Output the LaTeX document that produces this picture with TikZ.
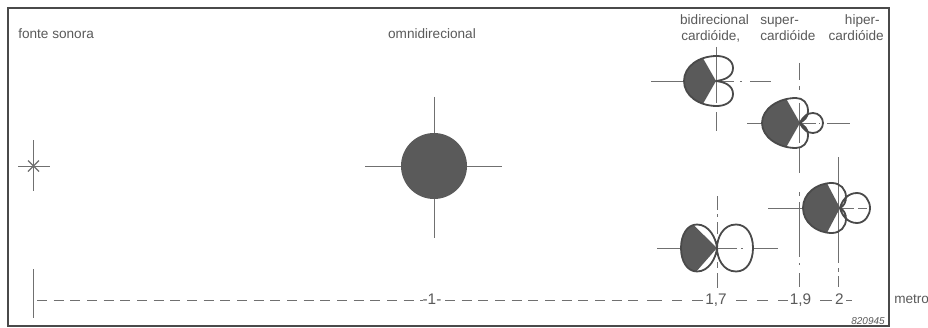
\documentclass[tikz,border=0pt]{standalone}
\usepackage{fontspec}
\setmainfont{Liberation Sans}
\definecolor{ink}{HTML}{5A5A5A}
\definecolor{edge}{HTML}{4A4A4A}
\definecolor{thin}{HTML}{707070}
\definecolor{txt}{HTML}{5A5A5A}
\newcommand{\mic}[4]{%
  \begin{scope}[shift={#1}]
    \fill[white] #2;
    #3
    \begin{scope}\clip #4; \fill[ink] #2; \end{scope}
    \draw[lobe] #2;
  \end{scope}}
\tikzset{
  lobe/.style={draw=edge,line width=1.35pt,line join=round},
  rule/.style={draw=thin,line width=.65pt},
  lab/.style={text=txt,font=\fontsize{10.2}{12}\selectfont,inner sep=0pt,anchor=base},
  tick/.style={text=txt,font=\fontsize{11.5}{12}\selectfont,inner sep=0pt,anchor=base},
  dashrule/.style={draw=thin,line width=.65pt,dash pattern=on 7.5pt off 5pt}
}
\begin{document}
\begin{tikzpicture}[x=.75pt,y=-.75pt]
\useasboundingbox (0,0) rectangle (928,328);
\fill[white] (0,0) rectangle (928,328);
\draw[draw=edge,line width=1pt] (8,8) rectangle (889,326);

% labels
\node[lab,anchor=base west] (t1) at (18,39) {fonte sonora};
\node[lab] (t2) at (432,39) {omnidirecional};
\node[lab] (t3) at (714.5,25) {bidirecional};
\node[lab,anchor=base west] (t4) at (681,41) {cardióide,};
\node[lab,anchor=base west] (t5) at (760,25) {super-};
\node[lab,anchor=base west] (t6) at (760,41) {cardióide};
\node[lab,anchor=base east] (t7) at (880,25) {hiper-};
\node[lab,anchor=base east] (t8) at (884,41) {cardióide};
\node[lab,anchor=base west] (t9) at (894,303) {metro};
\node[text=txt,font=\fontsize{7.5}{9}\selectfont\itshape,inner sep=0pt,anchor=base east] (t10) at (885,324) {820945};

% source
\draw[rule] (33.5,140) -- (33.5,191) (18,166) -- (50,166);
\draw[rule,line width=1pt] (28,160.5) -- (39,171.5) (28,171.5) -- (39,160.5);

% omni
\draw[rule] (434,97) -- (434,238) (365,166) -- (502,166);
\fill[ink] (434,166) circle[radius=33];

% top cardioid
\mic{(716,81)}
 {(0,0) .. controls (8,-1) and (17,-4) .. (17,-13) .. controls (17,-21) and (9,-25) .. (1,-25) .. controls (-18,-25) and (-32,-14) .. (-32,0) .. controls (-32,14) and (-18,25) .. (1,25) .. controls (9,25) and (17,21) .. (17,13) .. controls (17,4) and (8,1) .. (0,0) -- cycle}
 {\draw[rule] (0,-34) -- (0,22) (0,31) -- (0,50) (-65,0) -- (0,0) (0,0) -- (18,0) (24,0) -- (26,0) (34,0) -- (55,0);}
 {(0,0) -- (-16,-28) -- (-40,-28) -- (-40,28) -- (-16,28) -- cycle}

% supercardioid
\mic{(800,123)}
 {(0,0) .. controls (4,-3) and (8,-5) .. (8,-12) .. controls (8,-20) and (3,-25) .. (-4,-25) .. controls (-22,-25) and (-38,-14) .. (-38,0) .. controls (-38,14) and (-22,25) .. (-4,25) .. controls (3,25) and (8,20) .. (8,12) .. controls (8,5) and (4,3) .. (0,0) .. controls (3,7) and (8,10) .. (13,10) .. controls (19,10) and (23,5) .. (23,0) .. controls (23,-5) and (19,-10) .. (13,-10) .. controls (8,-10) and (3,-7) .. (0,0) -- cycle}
 {\draw[rule] (-1,-60) -- (-1,-43) (-1,-37) -- (-1,-33) (-1,-20) -- (-1,20) (-1,25) -- (-1,50) (-1,69) -- (-1,73) (-1,79) -- (-1,134) (-1,140) -- (-1,142) (-1,150) -- (-1,164) (-53,0) -- (-38,0) (0,0) -- (16,0) (19,0) -- (20,0) (27,0) -- (50,0);}
 {(0,0) -- (-16,-28) -- (-40,-28) -- (-40,28) -- (-16,28) -- cycle}

% hypercardioid
\mic{(840,208)}
 {(0,0) .. controls (4,-2) and (6,-6) .. (6,-11) .. controls (6,-19) and (0,-25) .. (-8,-25) .. controls (-24,-25) and (-37,-14) .. (-37,0) .. controls (-37,14) and (-24,25) .. (-8,25) .. controls (0,25) and (6,19) .. (6,11) .. controls (6,6) and (4,2) .. (0,0) .. controls (2,8) and (8,15) .. (17,15) .. controls (25,15) and (30,7) .. (30,0) .. controls (30,-7) and (25,-15) .. (17,-15) .. controls (8,-15) and (2,-8) .. (0,0) -- cycle}
 {\draw[rule] (-1.5,-51) -- (-1.5,55) (-1.5,60) -- (-1.5,64) (-1.5,68) -- (-1.5,79) (-72,0) -- (-37,0) (0,0) -- (14,0) (18,0) -- (27,0) (29,0) -- (31,0);}
 {(0,0) -- (-15,-28.5) -- (-42,-28.5) -- (-42,28.5) -- (-15,28.5) -- cycle}

% bidirectional
\mic{(717,248)}
 {(0,0) .. controls (0,-10) and (6,-23.5) .. (19,-23.5) .. controls (30,-23.5) and (36,-13) .. (36,0) .. controls (36,13) and (30,23.5) .. (19,23.5) .. controls (6,23.5) and (0,10) .. (0,0) .. controls (-1,10) and (-8,23.5) .. (-20,23.5) .. controls (-30,23.5) and (-36,13) .. (-36,0) .. controls (-36,-13) and (-30,-23.5) .. (-20,-23.5) .. controls (-8,-23.5) and (-1,-10) .. (0,0) -- cycle}
 {\draw[rule] (0,-52) -- (0,-38) (0,-34) -- (0,-31) (0,-26) -- (0,-14) (0,14) -- (0,20) (0,25) -- (0,40) (-60,0) -- (-36,0) (0,0) -- (20,0) (24,0) -- (26,0) (36,0) -- (61,0);}
 {(0,0) -- (-25.5,-25) -- (-42,-25) -- (-42,25) -- (-22,25) -- cycle}

% axis
\draw[rule] (33.5,269) -- (33.5,318);
\draw[dashrule] (37,300) -- (423,300);
\draw[dashrule] (445,300) -- (640,300);
\draw[rule] (647,300) -- (662,300) (672,300) -- (682,300) (692,300) -- (703,300)
            (736,300) -- (747,300) (757,300) -- (768,300) (778,300) -- (788,300)
            (820,300) -- (832,300) (846,300) -- (852,300);
\node[tick] (a1) at (432,304) {-1-};
\node[tick] (a2) at (716,304) {1,7};
\node[tick] (a3) at (800.5,304) {1,9};
\node[tick] (a4) at (839.5,304) {2};
\end{tikzpicture}
\end{document}
